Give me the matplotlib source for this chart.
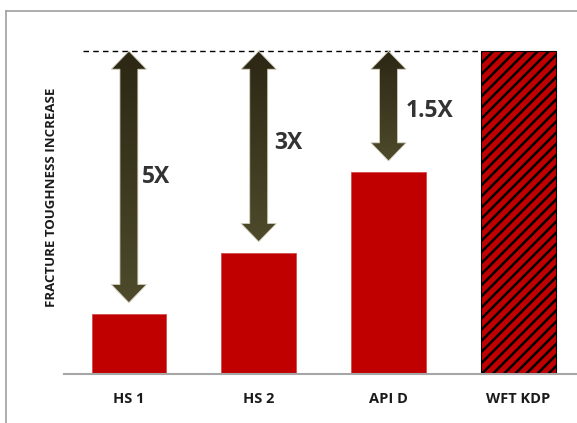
import numpy as np
import matplotlib
matplotlib.use("Agg")
import matplotlib.pyplot as plt
from matplotlib.colors import LinearSegmentedColormap
from matplotlib.patches import Polygon
from matplotlib.lines import Line2D

# Data (relative fracture toughness, WFT KDP = 100)
categories = ["HS 1", "HS 2", "API D", "WFT KDP"]
values = [18.6, 37.5, 62.5, 100.0]
ratio_labels = ["5X", "3X", "1.5X"]

plt.rcParams["font.family"] = ["Open Sans", "DejaVu Sans"]
plt.rcParams["hatch.linewidth"] = 1.8

fig = plt.figure(figsize=(5.77, 4.23), dpi=100)
ax = fig.add_axes([64 / 577, 49 / 423, 513 / 577, 339 / 423])

x = np.arange(len(categories))
red = "#c00000"
bars = ax.bar(x[:3], values[:3], width=0.575, color=red, edgecolor="#d04040", linewidth=0.5)
ax.bar(x[3], values[3], width=0.575, color=red, edgecolor="black", hatch="///", linewidth=0.8)

top = values[-1]
# dashed reference line at the WFT KDP level
ax.plot([-0.35, x[3] - 0.2875], [top, top], color="black", lw=1.0, ls=(0, (4, 3)))

# double arrows with a dark olive gradient
cmap = LinearSegmentedColormap.from_list("olive", ["#4e4a2b", "#2b2714"])
grad = np.linspace(0, 1, 256).reshape(-1, 1)
shaft_hw, head_hw, head_len, gap = 0.069, 0.135, 5.6, 3.5
text_off = [0.10, 0.12, 0.13]
text_y = [61, 71.5, 81.5]
for i, lab in enumerate(ratio_labels):
    cx = x[i]
    y0 = values[i] + gap
    y1 = top
    verts = [
        (cx, y1), (cx + head_hw, y1 - head_len), (cx + shaft_hw, y1 - head_len),
        (cx + shaft_hw, y0 + head_len), (cx + head_hw, y0 + head_len), (cx, y0),
        (cx - head_hw, y0 + head_len), (cx - shaft_hw, y0 + head_len),
        (cx - shaft_hw, y1 - head_len), (cx - head_hw, y1 - head_len),
    ]
    poly = Polygon(verts, closed=True, facecolor="none", edgecolor="#cfcbb8", lw=0.6, zorder=3)
    ax.add_patch(poly)
    im = ax.imshow(grad, extent=[cx - head_hw, cx + head_hw, y0, y1], origin="lower",
                   aspect="auto", cmap=cmap, zorder=2.9)
    im.set_clip_path(poly)
    ax.text(cx + text_off[i], text_y[i], lab, fontsize=16.5, fontweight="bold",
            color="#333333", ha="left", va="center")

ax.set_xlim(-0.5, 3.452)
ax.set_ylim(0, 105)
ax.set_xticks(x)
ax.set_xticklabels(categories, fontsize=10.5, fontweight="bold", color="#1a1a1a")
ax.set_yticks([])
ax.tick_params(axis="x", length=0, pad=13)
for s in ["top", "left", "right"]:
    ax.spines[s].set_visible(False)
ax.spines["bottom"].set_color("#a6a6a6")
ax.spines["bottom"].set_linewidth(1.5)

fig.text(52 / 577, 1 - 197.5 / 423, "FRACTURE TOUGHNESS INCREASE", rotation=90,
         fontsize=9.5, fontweight="bold", color="#1a1a1a", ha="center", va="center")

# outer frame (left and top edges visible)
fig.add_artist(Line2D([5.5 / 577, 5.5 / 577], [0, 1 - 11 / 423], color="#a0a0a0", lw=1.2))
fig.add_artist(Line2D([5.5 / 577, 1], [1 - 11 / 423, 1 - 11 / 423], color="#a0a0a0", lw=1.2))

fig.savefig("out.png", dpi=100)
